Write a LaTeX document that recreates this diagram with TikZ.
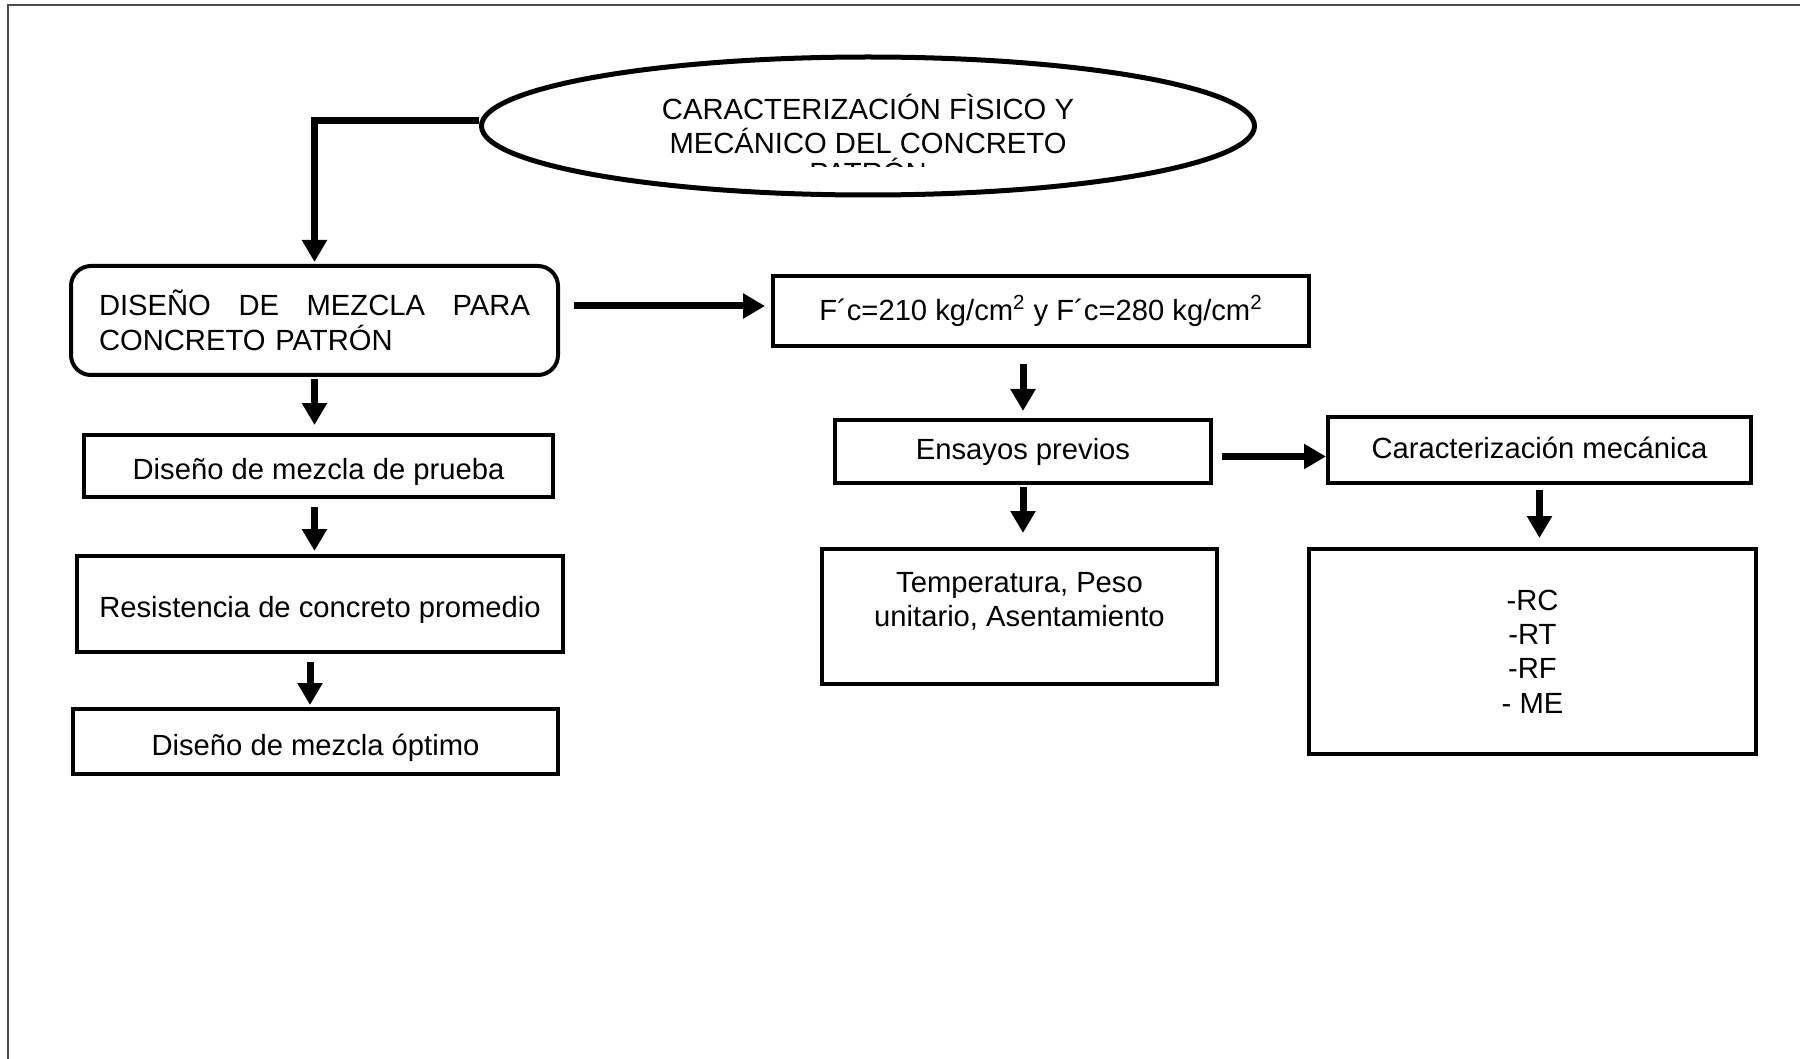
\documentclass[tikz,border=0pt]{standalone}
\usepackage{fontspec}
\setmainfont{Liberation Sans}
\usetikzlibrary{arrows.meta,shapes.geometric}
\tikzset{font=\fontsize{14.6}{17.2}\selectfont}
\tikzstyle{caja}=[draw,line width=2pt,inner sep=0pt,align=center]
\tikzstyle{bajo}=[text height=14pt,text depth=0pt]
\tikzstyle{flecha}=[line width=3.5pt,-{Triangle[width=12pt,length=11pt]}]
\begin{document}
\begin{tikzpicture}[x=0.5pt,y=-0.5pt]
\useasboundingbox (0,0) rectangle (1800,1059);
\draw[line width=1pt,black!70] (8,1059) -- (8,5) -- (1800,5);
\node[ellipse,draw,line width=2.5pt,inner sep=0pt,align=center,minimum width=386.5pt,minimum height=69pt] (carac) at (868,126) {};
\node[align=center] (caracTxt) at (868,124) {CARACTERIZACIÓN FÌSICO Y\\MECÁNICO DEL CONCRETO};
%tercera linea recortada
\begin{scope}
\clip (780,150) rectangle (960,167);
\node (caracCut) at (868,171) {PATRÓN};
\end{scope}
\node[caja,rounded corners=10pt,minimum width=243.5pt,minimum height=54.5pt,text width=215.5pt,align=left] (dis) at (314.5,320.5) {DISEÑO\hfill DE\hfill MEZCLA\hfill PARA\\CONCRETO PATRÓN};
\node[caja,bajo,minimum width=234.5pt,minimum height=31pt] (pru) at (318.5,466) {Diseño de mezcla de prueba};
\node[caja,text height=13.5pt,text depth=0pt,minimum width=243pt,minimum height=48pt] (res) at (320,604) {Resistencia de concreto promedio};
\node[caja,bajo,minimum width=242.5pt,minimum height=32.5pt] (opt) at (315.5,741.5) {Diseño de mezcla óptimo};
\node[caja,minimum width=268pt,minimum height=35pt] (fc) at (1041,311) {F´c=210 kg/cm\textsuperscript{2} y F´c=280 kg/cm\textsuperscript{2}};
\node[caja,minimum width=188pt,minimum height=31.5pt] (ens) at (1023,451.5) {Ensayos previos};
\node[caja,text depth=2pt,minimum width=211.5pt,minimum height=33pt] (mec) at (1539.5,450) {Caracterización mecánica};
\node[caja,minimum width=197.5pt,minimum height=67.5pt] (tem) at (1019.5,616.5) {Temperatura, Peso\\unitario, Asentamiento\\\mbox{}};
\node[caja,minimum width=223.5pt,minimum height=102.5pt] (rc) at (1532.5,651.5) {-RC\\-RT\\-RF\\- ME};
\draw[flecha,shorten >=1pt] ([yshift=2.5pt]carac.west) -| (dis.north);
\path[flecha]
(dis.south) edge[shorten <=1pt,shorten >=4pt] (dis.south |- pru.north)
(dis.south |- pru.south) edge[shorten <=4pt,shorten >=1.5pt] (dis.south |- res.north)
([xshift=-2.75pt]opt.north |- res.south) edge[shorten <=4pt,shorten >=1pt] ([xshift=-2.75pt]opt.north)
([yshift=2.5pt]dis.east |- fc.west) edge[shorten <=7pt,shorten >=3pt] ([yshift=2.5pt]fc.west)
(ens.north |- fc.south) edge[shorten <=8pt,shorten >=3.5pt] (ens.north)
(ens.south) edge[shorten <=1pt,shorten >=7pt] (ens.south |- tem.north)
([yshift=-2.5pt]ens.east) edge[shorten <=4.5pt] ([yshift=-2.5pt]ens.east -| mec.west)
(mec.south) edge[shorten <=2.5pt,shorten >=4.5pt] (mec.south |- rc.north);
\end{tikzpicture}
\end{document}
